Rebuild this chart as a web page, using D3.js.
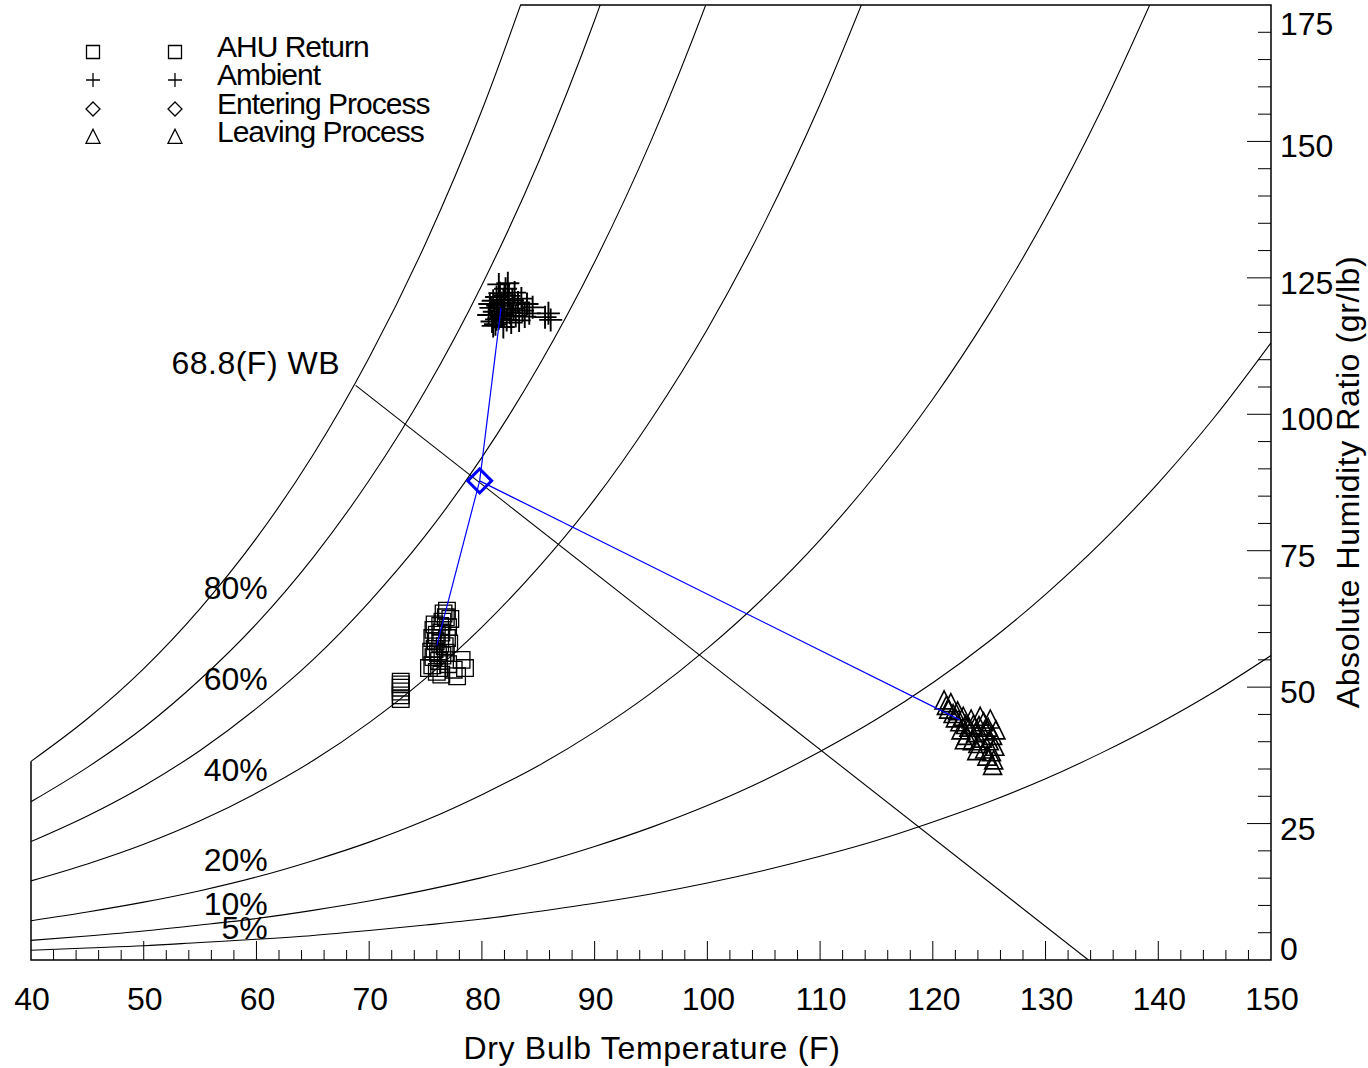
<!DOCTYPE html>
<html>
<head>
<meta charset="utf-8">
<script src="https://cdnjs.cloudflare.com/ajax/libs/d3/7.8.5/d3.min.js"></script>
<style>
  body { margin: 0; background: #fff; }
  svg { display: block; }
  text { font-family: "Liberation Sans", Arial, sans-serif; fill: #000; }
</style>
</head>
<body>
<script>
// dry bulb temps (F) for the RH curves
var temps = [40, 45, 50, 55, 60, 65, 70, 75, 80, 85, 90, 95, 100, 105,
             110, 115, 120, 125, 130, 135, 140, 145, 150];

// humidity ratio (gr/lb)
var rh100 = [36.4, 44.2, 53.4, 64.4, 77.3, 92.5, 110.4, 131.3, 155.7, 184.2];
var rh80 = [29.0, 35.3, 42.6, 51.4, 61.6, 73.7, 87.9, 104.4, 123.7, 146.1, 172.2, 202.5];
var rh60 = [21.7, 26.4, 31.9, 38.4, 46.1, 55.0, 65.6, 77.8, 92.1, 108.7, 127.9, 150.1, 175.8, 205.4];
var rh40 = [14.5, 17.6, 21.2, 25.5, 30.6, 36.5, 43.5, 51.6, 61.0, 71.9, 84.4, 99.0, 115.6,
            134.8, 156.8, 181.9];
var rh20 = [7.2, 8.8, 10.6, 12.7, 15.2, 18.2, 21.6, 25.6, 30.3, 35.6, 41.8, 48.9, 57.1,
            66.4, 77.0, 89.1, 102.8, 118.4, 136.0, 156.0, 178.5];
var rh10 = [3.6, 4.4, 5.3, 6.4, 7.6, 9.1, 10.8, 12.8, 15.1, 17.7, 20.8, 24.3, 28.3,
            32.9, 38.2, 44.1, 50.8, 58.4, 67.0, 76.6, 87.4, 99.5, 113.1];
var rh5 = [1.8, 2.2, 2.6, 3.2, 3.8, 4.5, 5.4, 6.4, 7.5, 8.9, 10.4, 12.1, 14.1,
           16.4, 19.0, 21.9, 25.3, 29.0, 33.2, 38.0, 43.3, 49.2, 55.8];

var rhCurves = [rh100, rh80, rh60, rh40, rh20, rh10, rh5];
var rhLabels = ["80%", "60%", "40%", "20%", "10%", "5%"];
var rhLabelW = [66.2, 49.4, 32.8, 16.4, 8.2, 3.8];   // curve value under each label

// wet bulb line
var wbLabel = "68.8(F) WB";
var wbLine = [[68.8, 105.3], [133.8, 0]];

// measured points [dry bulb F, gr/lb]
var ambient = [[80.6,118.2],[80.8,119.5],[80.9,117.0],[81.0,120.8],[81.1,118.8],[81.2,116.5],
  [81.3,121.5],[81.4,119.9],[81.5,117.6],[81.6,122.2],[81.7,120.4],[81.8,118.3],[81.9,121.0],
  [82.0,119.2],[82.1,123.0],[82.2,117.3],[82.3,120.0],[82.4,121.7],[82.5,118.6],[82.6,116.8],
  [82.7,120.9],[82.8,119.4],[82.9,122.3],[83.0,118.0],[83.2,120.5],[83.3,117.2],[83.5,121.2],
  [83.6,119.0],[83.8,117.9],[84.0,120.2],[84.2,118.5],[84.5,119.6],[80.7,120.2],[81.0,116.2],
  [81.5,123.8],[82.3,124.0],[81.9,116.0],[85.6,117.8],[85.9,118.5],[86.1,117.3],[82.6,118.0],
  [81.3,117.4],[82.0,121.8]];

var ahuReturn = [[72.8,47.8],[72.8,48.5],[72.8,49.2],[72.8,49.9],[72.8,50.5],[72.8,51.0],
  [75.6,54.0],[75.7,55.5],[75.8,57.0],[75.9,58.4],[76.0,59.6],[75.7,60.5],[75.8,61.5],
  [76.1,56.2],[76.2,54.8],[76.3,58.0],[76.4,60.0],[76.5,62.0],[76.6,63.5],[76.8,62.8],
  [77.0,61.0],[76.9,59.0],[76.7,57.5],[76.5,55.8],[76.2,53.5],[76.0,52.8],[75.5,56.5],
  [75.6,59.0],[76.3,61.2],[76.8,56.3],[77.0,54.2],[76.4,52.3],[77.5,53.2],[78.2,55.0],
  [78.5,53.5],[77.8,52.0],[75.3,53.5],[76.9,64.0],[77.1,58.0],[77.2,62.5]];

var leaving = [[121.0,47.5],[121.2,46.5],[121.4,45.8],[121.6,47.0],[121.8,45.0],[122.0,44.2],
  [122.2,45.5],[122.4,43.5],[122.5,42.0],[122.7,44.5],[122.9,43.0],[123.0,41.0],[123.2,42.5],
  [123.4,44.0],[123.5,40.0],[123.6,43.0],[123.8,41.5],[124.0,39.5],[124.1,42.8],[124.2,44.5],
  [124.4,40.5],[124.5,43.5],[124.6,38.5],[124.7,41.8],[124.9,42.5],[125.0,40.0],[125.1,44.0],
  [125.2,38.0],[125.3,41.0],[125.4,36.5],[125.5,39.0],[125.6,42.0],[125.3,35.5],[123.9,38.2],
  [122.8,40.2],[124.8,37.2]];

var entering = [79.8, 87.8];
var processEnds = [[81.7, 119.5], [76.0, 57.7], [122.4, 44.0]];

var legendNames = ["AHU Return", "Ambient", "Entering Process", "Leaving Process"];
var legendShapes = ["square", "plus", "diamond", "triangle"];

var W = 1368, H = 1068;
var pl = 31, pr = 1271, pt = 5, pb = 960;

var svg = d3.select("body").append("svg")
  .attr("width", W).attr("height", H);

var x = d3.scaleLinear().domain([40, 150]).range([pl, pr]);
var y = d3.scaleLinear().domain([0, 175]).range([pb, pt]);

svg.append("clipPath").attr("id", "plot")
  .append("rect").attr("x", pl).attr("y", pt)
  .attr("width", pr - pl).attr("height", pb - pt);

var plot = svg.append("g").attr("clip-path", "url(#plot)");

// rh curves
var line = d3.line()
  .x(function(d, i) { return x(temps[i]); })
  .y(function(d) { return y(d); })
  .curve(d3.curveMonotoneX);

plot.selectAll("path.rh")
  .data(rhCurves)
  .enter()
  .append("path")
  .attr("class", "rh")
  .attr("d", line)
  .attr("fill", "none")
  .attr("stroke", "#000")
  .attr("stroke-width", 1.1);

// outline: left edge below saturation, bottom, right, top from saturation exit
var i0 = rh100.findIndex(function(v) { return v > 175; });
var satTopT = temps[i0 - 1] + 5 * (175 - rh100[i0 - 1]) / (rh100[i0] - rh100[i0 - 1]);

svg.append("path")
  .attr("d", "M" + x(40) + "," + y(rh100[0]) + "V" + y(0) + "H" + x(150) + "V" + y(175) + "H" + x(satTopT))
  .attr("fill", "none")
  .attr("stroke", "#000")
  .attr("stroke-width", 1.5);

// bottom ticks
var xMinor = d3.range(42, 150, 2);
svg.selectAll("line.xt")
  .data(xMinor)
  .enter()
  .append("line")
  .attr("x1", function(d) { return x(d); })
  .attr("x2", function(d) { return x(d); })
  .attr("y1", pb)
  .attr("y2", function(d) { return d % 10 == 0 ? pb - 19 : pb - 10; })
  .attr("stroke", "#000");

svg.selectAll("text.xl")
  .data(d3.range(40, 151, 10))
  .enter()
  .append("text")
  .attr("x", function(d) { return x(d) + 1; })
  .attr("y", 1010)
  .attr("text-anchor", "middle")
  .attr("font-size", "32px")
  .text(function(d) { return d; });

// right ticks
svg.selectAll("line.yt")
  .data(d3.range(5, 175, 5))
  .enter()
  .append("line")
  .attr("x1", pr)
  .attr("x2", function(d) { return d % 25 == 0 ? pr - 24 : pr - 13; })
  .attr("y1", function(d) { return y(d); })
  .attr("y2", function(d) { return y(d); })
  .attr("stroke", "#000");

svg.selectAll("text.yl")
  .data(d3.range(0, 176, 25))
  .enter()
  .append("text")
  .attr("x", 1280)
  .attr("y", function(d) { return Math.max(35, Math.min(960, y(d) + 16)); })
  .attr("font-size", "32px")
  .text(function(d) { return d; });

// axis titles
svg.append("text")
  .attr("x", 652).attr("y", 1059)
  .attr("text-anchor", "middle")
  .attr("font-size", "32px")
  .attr("letter-spacing", "0.7px")
  .text("Dry Bulb Temperature (F)");

svg.append("text")
  .attr("transform", "translate(1359,482) rotate(-90)")
  .attr("text-anchor", "middle")
  .attr("font-size", "32px")
  .attr("letter-spacing", "0.6px")
  .text("Absolute Humidity Ratio (gr/lb)");

// rh labels
svg.selectAll("text.rhl")
  .data(rhLabels)
  .enter()
  .append("text")
  .attr("x", x(61))
  .attr("y", function(d, i) { return y(rhLabelW[i]); })
  .attr("text-anchor", "end")
  .attr("font-size", "32px")
  .text(function(d) { return d; });

// wet bulb line
plot.append("line")
  .attr("x1", x(wbLine[0][0])).attr("y1", y(wbLine[0][1]))
  .attr("x2", x(wbLine[1][0])).attr("y2", y(wbLine[1][1]))
  .attr("stroke", "#000")
  .attr("stroke-width", 1.1);

svg.append("text")
  .attr("x", 340).attr("y", 374)
  .attr("text-anchor", "end")
  .attr("font-size", "32px")
  .attr("letter-spacing", "0.5px")
  .text(wbLabel);

// marker shapes
function shape(type, s) {
  if (type == "square") return "M" + (-s) + "," + (-s) + "h" + 2 * s + "v" + 2 * s + "h" + (-2 * s) + "Z";
  if (type == "plus") return "M" + (-s) + ",0H" + s + "M0," + (-s) + "V" + s;
  if (type == "diamond") return "M0," + (-s) + "L" + s + ",0L0," + s + "L" + (-s) + ",0Z";
  return "M0," + (-s * 1.1) + "L" + s + "," + s * 0.9 + "H" + (-s) + "Z";
}

function drawPoints(data, type, s, sw) {
  plot.append("g").selectAll("path")
    .data(data)
    .enter()
    .append("path")
    .attr("transform", function(d) { return "translate(" + x(d[0]) + "," + y(d[1]) + ")"; })
    .attr("d", shape(type, s))
    .attr("fill", "none")
    .attr("stroke", "#000")
    .attr("stroke-width", sw);
}

drawPoints(ahuReturn, "square", 8.3, 1.3);
drawPoints(ambient, "plus", 11.5, 1.9);
drawPoints(leaving, "triangle", 9, 1.6);

// process lines (blue)
plot.selectAll("line.proc")
  .data(processEnds)
  .enter()
  .append("line")
  .attr("x1", x(entering[0])).attr("y1", y(entering[1]))
  .attr("x2", function(d) { return x(d[0]); })
  .attr("y2", function(d) { return y(d[1]); })
  .attr("stroke", "#0000ff")
  .attr("stroke-width", 1.2);

plot.append("path")
  .attr("transform", "translate(" + x(entering[0]) + "," + y(entering[1]) + ")")
  .attr("d", shape("diamond", 12))
  .attr("fill", "none")
  .attr("stroke", "#0000ff")
  .attr("stroke-width", 3);

// legend
var legendY = [52, 80, 109, 137];
var leg = svg.append("g");
legendNames.forEach(function(name, i) {
  [93, 175].forEach(function(lx) {
    leg.append("path")
      .attr("transform", "translate(" + lx + "," + legendY[i] + ")")
      .attr("d", shape(legendShapes[i], legendShapes[i] == "square" ? 6.5 : 7))
      .attr("fill", "none")
      .attr("stroke", "#000")
      .attr("stroke-width", 1.3);
  });
  leg.append("text")
    .attr("x", 217)
    .attr("y", legendY[i] + 5)
    .attr("font-size", "30px")
    .attr("letter-spacing", "-1px")
    .text(name);
});
</script>
</body>
</html>
